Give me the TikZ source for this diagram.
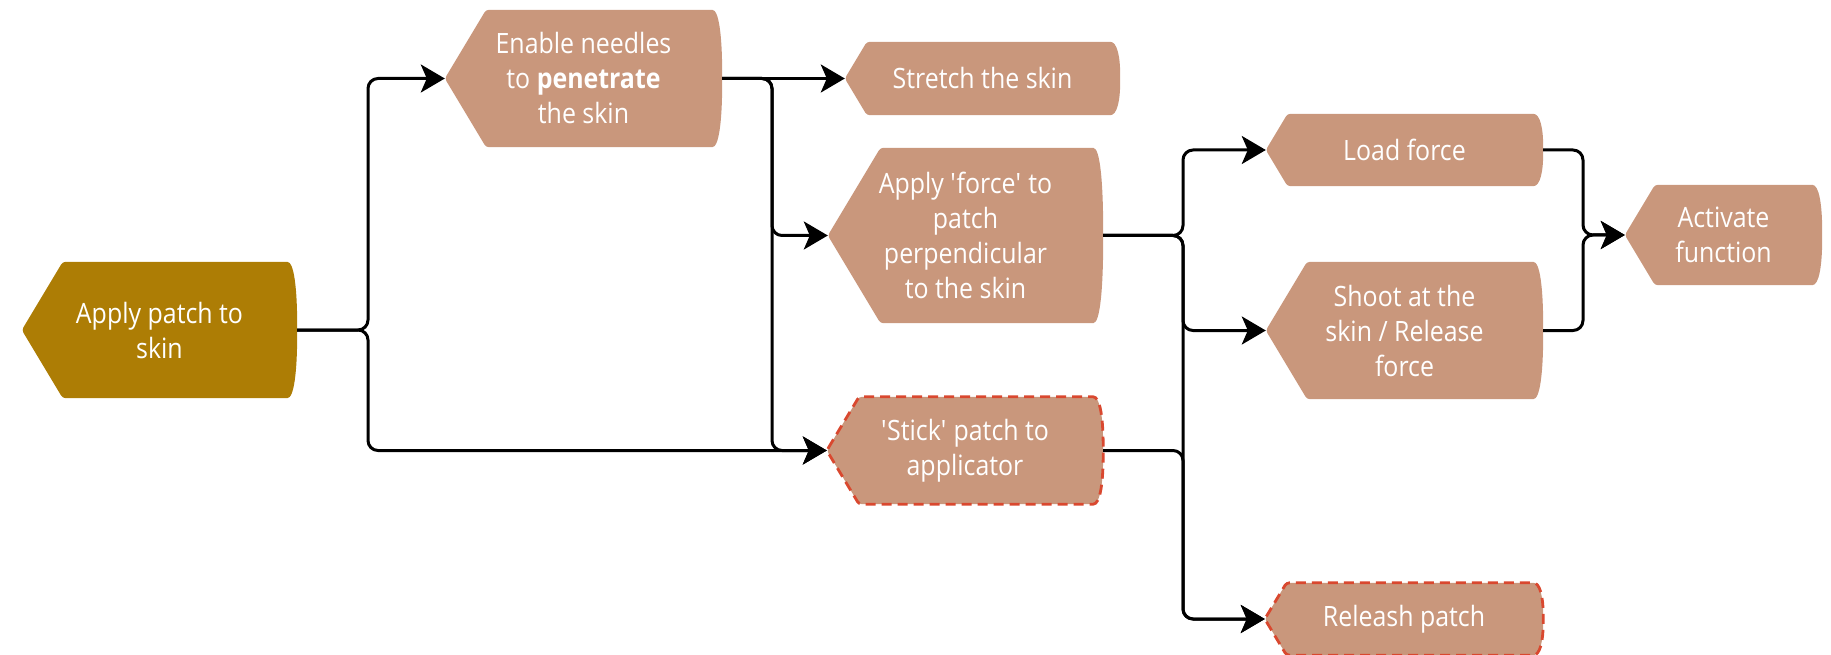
\documentclass[tikz,border=0pt]{standalone}
\usepackage{fontspec}
\setmainfont{Open Sans}[FakeStretch=0.89]
\usetikzlibrary{arrows.meta,calc,backgrounds}
\definecolor{goldc}{RGB}{173,125,5}
\definecolor{brownc}{RGB}{201,151,124}
\definecolor{dashc}{RGB}{217,72,47}
\newcommand\dshape[2]{%
  \path[#2] let \p1=(#1.north west), \p2=(#1.south east) in
    (\x1,{0.5*\y1+0.5*\y2})
    -- ({\x1+0.3*(\y1-\y2)},\y1)
    -- (\x2-13,\y1)
    .. controls (\x2-3,\y1) and (\x2,{\y1-0.2*(\y1-\y2)}) .. (\x2,{0.5*\y1+0.5*\y2})
    .. controls (\x2,{\y2+0.2*(\y1-\y2)}) and (\x2-3,\y2) .. (\x2-13,\y2)
    -- ({\x1+0.3*(\y1-\y2)},\y2) -- cycle;}
\tikzset{
  lbl/.style={text=white, align=center, inner sep=0pt, font=\fontsize{28}{35}\selectfont},
  solidbox/.style={fill=brownc, rounded corners=3pt},
  goldbox/.style={fill=goldc, rounded corners=3pt},
  dashbox/.style={fill=brownc, rounded corners=3pt, draw=dashc, line width=2.8pt, dash pattern=on 10pt off 6pt},
  arr/.style={draw=black, line width=3pt, rounded corners=10pt, -{Stealth[length=24pt,width=28pt,inset=6pt]}}
}
\begin{document}
\begin{tikzpicture}[x=1pt,y=-1pt]
\useasboundingbox (0,0) rectangle (1831,655);
% nodes
\node[lbl, minimum width=275pt, minimum height=136pt] (apply) at (159.5,330) {Apply patch to\\skin};
\node[lbl, minimum width=277pt, minimum height=137pt] (enable) at (583.5,78.5) {Enable needles\\to \textbf{penetrate}\\the skin};
\node[lbl, minimum width=275pt, minimum height=73pt] (stretch) at (982.5,78.5) {Stretch the skin};
\node[lbl, minimum width=275pt, minimum height=175pt] (force) at (965.5,235.5) {Apply \textquotesingle force\textquotesingle\ to\\patch\\perpendicular\\to the skin};
\node[lbl, minimum width=276pt, minimum height=107pt] (stick) at (965,450.5) {\textquotesingle Stick\textquotesingle\ patch to\\applicator};
\node[lbl, minimum width=277pt, minimum height=72pt] (load) at (1404.5,150) {Load force};
\node[lbl, minimum width=277pt, minimum height=137pt] (shoot) at (1404.5,330.5) {Shoot at the\\skin / Release\\force};
\node[lbl, minimum width=197pt, minimum height=100pt] (activate) at (1723.5,235) {Activate\\function};
\node[lbl, minimum width=278pt, minimum height=72pt] (releash) at (1404,619) {Releash patch};
% shapes
\begin{scope}[on background layer]
\dshape{apply}{goldbox}
\dshape{enable}{solidbox}
\dshape{stretch}{solidbox}
\dshape{force}{solidbox}
\dshape{stick}{dashbox}
\dshape{load}{solidbox}
\dshape{shoot}{solidbox}
\dshape{activate}{solidbox}
\dshape{releash}{dashbox}
\end{scope}
% bus points
\coordinate (b1) at (368,330);
\coordinate (b2) at (772,78.5);
\coordinate (b3) at (1183,235.5);
\coordinate (b4) at (1183,450.5);
\coordinate (b5) at (1583,150);
\coordinate (b6) at (1583,330.5);
% connectors
\draw[arr] (apply.east) -- (b1) |- (enable.west);
\draw[arr] (apply.east) -- (b1) |- (stick.west);
\draw[arr] (enable.east) -- (stretch.west);
\draw[arr] (enable.east) -- (b2) |- (force.west);
\draw[arr] (enable.east) -- (b2) |- (stick.west);
\draw[arr] (force.east) -- (b3) |- (load.west);
\draw[arr] (force.east) -- (b3) |- (shoot.west);
\draw[arr] (force.east) -- (b3) |- (releash.west);
\draw[arr] (stick.east) -- (b4) |- (releash.west);
\draw[arr] (load.east) -- (b5) |- (activate.west);
\draw[arr] (shoot.east) -- (b6) |- (activate.west);
\end{tikzpicture}
\end{document}
